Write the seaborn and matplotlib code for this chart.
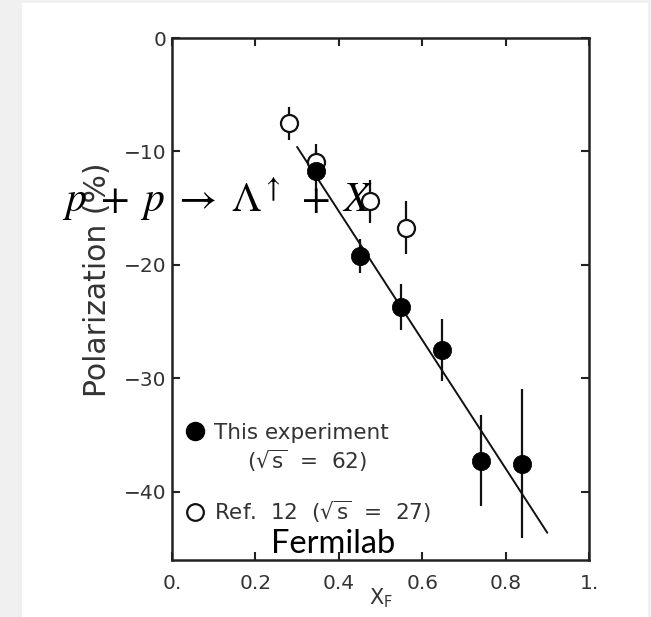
import numpy as np
import pandas as pd
import matplotlib
matplotlib.use("Agg")
import matplotlib.pyplot as plt
from matplotlib.patches import Rectangle
from matplotlib.lines import Line2D
import seaborn as sns

# ---- data ----
this_x = [0.345, 0.45, 0.55, 0.648, 0.74, 0.84]
this_y = [-11.7, -19.2, -23.7, -27.5, -37.25, -37.5]
this_err = [1.8, 1.5, 2.0, 2.7, 4.0, 6.6]

ref_x = [0.28, 0.345, 0.474, 0.56]
ref_y = [-7.5, -10.9, -14.4, -16.7]
ref_err = [1.45, 1.6, 1.9, 2.3]

fit_x = [0.30, 0.90]
fit_y = [-9.6, -43.6]

x_ticks = [0.0, 0.2, 0.4, 0.6, 0.8, 1.0]
x_ticklabels = ["0.", "0.2", "0.4", "0.6", "0.8", "1."]
y_ticks = [0, -10, -20, -30, -40]

sns.set_theme(style="ticks")
plt.rcParams["font.family"] = ["DejaVu Sans"]

TXT = "#333333"
W, H = 651, 617
fig = plt.figure(figsize=(W / 100, H / 100), dpi=100, facecolor="#f0f0f0")
fig.add_artist(Rectangle((22 / W, 0), (648 - 22) / W, 1 - 3 / H,
                         transform=fig.transFigure, facecolor="white",
                         edgecolor="none", zorder=-10))

ax = fig.add_axes([172 / W, 1 - 560 / H, (589 - 172) / W, (560 - 38) / H])
ax.set_facecolor("white")

df_this = pd.DataFrame({"x": this_x, "y": this_y, "e": this_err})
df_ref = pd.DataFrame({"x": ref_x, "y": ref_y, "e": ref_err})
df_fit = pd.DataFrame({"x": fit_x, "y": fit_y})

ax.errorbar(df_ref["x"], df_ref["y"], yerr=df_ref["e"], fmt="none",
            ecolor="#111111", elinewidth=1.6, capsize=0, zorder=2)
ax.errorbar(df_this["x"], df_this["y"], yerr=df_this["e"], fmt="none",
            ecolor="#111111", elinewidth=1.6, capsize=0, zorder=2)
sns.lineplot(data=df_fit, x="x", y="y", ax=ax, color="#111111", lw=1.4, zorder=3)
sns.scatterplot(data=df_ref, x="x", y="y", ax=ax, s=150, marker="o",
                facecolor="white", edgecolor="#111111", linewidth=1.6, zorder=4)
sns.scatterplot(data=df_this, x="x", y="y", ax=ax, s=175, marker="o",
                color="black", edgecolor="black", linewidth=0.5, zorder=5)

ax.set_xlim(0, 1)
ax.set_ylim(-46, 0)
ax.set_xticks(x_ticks)
ax.set_xticklabels(x_ticklabels)
ax.set_yticks(y_ticks)
ax.tick_params(axis="both", direction="in", length=6, width=1.5,
               colors="#222222", labelcolor=TXT, labelsize=14.5,
               top=True, right=True)
ax.tick_params(axis="x", pad=10)
ax.tick_params(axis="y", pad=4)
for s in ax.spines.values():
    s.set_linewidth(1.8)
    s.set_color("#222222")

ax.set_xlabel(r"X$_{\mathregular{F}}$", fontsize=15, color=TXT)
ax.xaxis.set_label_coords(0.5, -0.05)
ax.set_ylabel("Polarization (%)", fontsize=21.5, color=TXT)
ax.yaxis.set_label_coords(-0.145, 0.537)

handles = [
    Line2D([], [], marker="o", ls="none", color="black", markersize=13),
    Line2D([], [], marker="o", ls="none", markerfacecolor="white",
           markeredgecolor="#111111", markeredgewidth=1.6, markersize=12),
]
labels = ["This experiment",
          r"Ref.  12  ($\sqrt{\mathrm{s}}$  =  27)"]
leg = ax.legend(handles, labels, loc="upper left", bbox_to_anchor=(0.0, 0.29),
                frameon=False, fontsize=15.5, handlelength=0.8,
                handletextpad=0.5, labelspacing=2.6, borderaxespad=0.25)
for t in leg.get_texts():
    t.set_color(TXT)
ax.text(0.18, 0.19, r"($\sqrt{\mathrm{s}}$  =  62)", transform=ax.transAxes,
        fontsize=15.5, color=TXT, va="center", ha="left")

fig.text(62 / W, 1 - 212 / H,
         r"$p\;+\;p\;\rightarrow\;\Lambda^{\uparrow}\;+\;X$",
         math_fontfamily="stix", fontsize=30, color="black",
         va="baseline", ha="left", zorder=10)
fig.text(271 / W, 1 - 553 / H, "Fermilab", family="Lato", fontsize=23.5,
         color="black", va="baseline", ha="left", zorder=10)

fig.savefig("out.png", dpi=100, facecolor=fig.get_facecolor())
